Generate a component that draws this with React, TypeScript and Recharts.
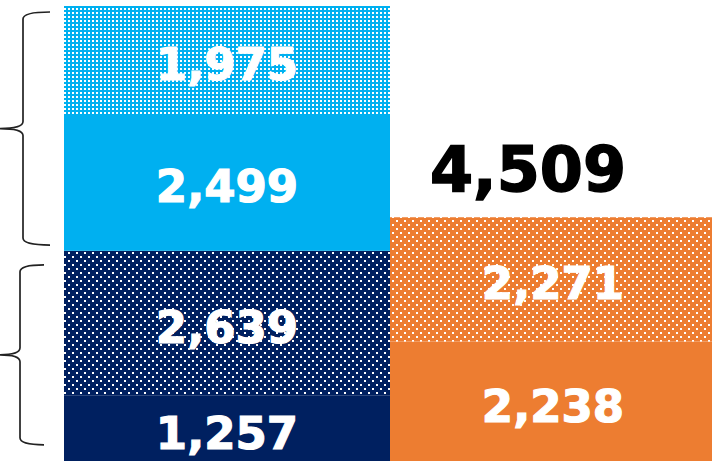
import React from 'react';
import { BarChart, Bar, XAxis, YAxis, LabelList, ReferenceArea } from 'recharts';

// values
const categories = ['left', 'right'];
const navySolid = [1257, null];
const navyDotted = [2639, null];
const cyanSolid = [2499, null];
const cyanDotted = [1975, null];
const orangeSolid = [null, 2238];
const orangeDotted = [null, 2271];
const totals = [null, 4509];

// brace spans (value units) on the left side
const braceTop = [8260, 4000];
const braceBottom = [3640, 350];

const MAX = 8370;
const NAVY = '#002060';
const CYAN = '#00B0F0';
const ORANGE = '#ED7D31';
const FONT = '"DejaVu Sans", Verdana, sans-serif';

const data = categories.map((name, i) => ({
  name,
  navySolid: navySolid[i],
  navyDotted: navyDotted[i],
  cyanSolid: cyanSolid[i],
  cyanDotted: cyanDotted[i],
  orangeSolid: orangeSolid[i],
  orangeDotted: orangeDotted[i],
  total: totals[i],
}));

const fmt = (v: number) => v.toLocaleString('en-US');

const valueText = (x: number, y: number, width: number, height: number, value: number) => (
  <text
    x={x + width / 2}
    y={y + height / 2 + 4}
    textAnchor="middle"
    dominantBaseline="central"
    fill="#fff"
    stroke="#fff"
    strokeWidth={1.2}
    fontFamily={FONT}
    fontWeight="bold"
    fontSize={45}
  >
    {fmt(value)}
  </text>
);

const renderValue = (props: any) => {
  const { x, y, width, height, value } = props;
  if (!value) return null;
  return valueText(x, y, width, height, value);
};

// top segment of the right stack also carries the stack total above it
const renderTop = (props: any) => {
  const { x, y, width, height, value } = props;
  if (!value) return null;
  const t = totals[orangeDotted.indexOf(value)];
  return (
    <g>
      {valueText(x, y, width, height, value)}
      {t ? (
        <text
          x={x + width / 2 - 25}
          y={y - 48}
          textAnchor="middle"
          dominantBaseline="central"
          fill="#000"
          stroke="#000"
          strokeWidth={1.5}
          fontFamily={FONT}
          fontWeight="bold"
          fontSize={62}
        >
          {fmt(t)}
        </text>
      ) : null}
    </g>
  );
};

const Brace = ({ y, height, spine, end }: any) => {
  const y1 = y;
  const y2 = y + height;
  const ym = (y1 + y2) / 2;
  const r = 7;
  const d = `M ${end} ${y1} Q ${spine} ${y1} ${spine} ${y1 + r} L ${spine} ${ym - r} Q ${spine} ${ym} 0 ${ym} Q ${spine} ${ym} ${spine} ${ym + r} L ${spine} ${y2 - r} Q ${spine} ${y2} ${end} ${y2}`;
  return <path d={d} fill="none" stroke="#222" strokeWidth={1.7} />;
};

export default function App() {
  return (
    <div style={{ position: 'fixed', top: 0, left: 0, width: 712, height: 461, overflow: 'hidden', background: '#fff' }}>
      <BarChart
        width={716}
        height={470}
        data={data}
        margin={{ top: 6, right: 0, left: 64, bottom: 6 }}
        barCategoryGap={0}
        barGap={0}
      >
        <defs>
          <pattern id="cyanDots" width={4} height={4} patternUnits="userSpaceOnUse">
            <rect width={4} height={4} fill={CYAN} />
            <rect x={0} y={0} width={2} height={2} fill="#fff" />
          </pattern>
          <pattern id="navyDots" width={8} height={8} patternUnits="userSpaceOnUse">
            <rect width={8} height={8} fill={NAVY} />
            <rect x={0} y={0} width={2} height={2} fill="#fff" />
            <rect x={4} y={4} width={2} height={2} fill="#fff" />
          </pattern>
          <pattern id="orangeDots" width={8} height={8} patternUnits="userSpaceOnUse">
            <rect width={8} height={8} fill={ORANGE} />
            <rect x={0} y={0} width={2} height={2} fill="#fff" />
            <rect x={4} y={4} width={2} height={2} fill="#fff" />
          </pattern>
        </defs>
        <XAxis dataKey="name" hide />
        <YAxis hide domain={[0, MAX]} />
        <Bar dataKey="navySolid" stackId="a" fill={NAVY} isAnimationActive={false}>
          <LabelList dataKey="navySolid" content={renderValue} />
        </Bar>
        <Bar dataKey="navyDotted" stackId="a" fill="url(#navyDots)" isAnimationActive={false}>
          <LabelList dataKey="navyDotted" content={renderValue} />
        </Bar>
        <Bar dataKey="cyanSolid" stackId="a" fill={CYAN} isAnimationActive={false}>
          <LabelList dataKey="cyanSolid" content={renderValue} />
        </Bar>
        <Bar dataKey="cyanDotted" stackId="a" fill="url(#cyanDots)" isAnimationActive={false}>
          <LabelList dataKey="cyanDotted" content={renderValue} />
        </Bar>
        <Bar dataKey="orangeSolid" stackId="a" fill={ORANGE} isAnimationActive={false}>
          <LabelList dataKey="orangeSolid" content={renderValue} />
        </Bar>
        <Bar dataKey="orangeDotted" stackId="a" fill="url(#orangeDots)" isAnimationActive={false}>
          <LabelList dataKey="orangeDotted" content={renderTop} />
        </Bar>
        <ReferenceArea
          y1={braceTop[1]}
          y2={braceTop[0]}
          ifOverflow="visible"
          shape={(p: any) => <Brace {...p} spine={23} end={50} />}
        />
        <ReferenceArea
          y1={braceBottom[1]}
          y2={braceBottom[0]}
          ifOverflow="visible"
          shape={(p: any) => <Brace {...p} spine={20} end={44} />}
        />
      </BarChart>
    </div>
  );
}
